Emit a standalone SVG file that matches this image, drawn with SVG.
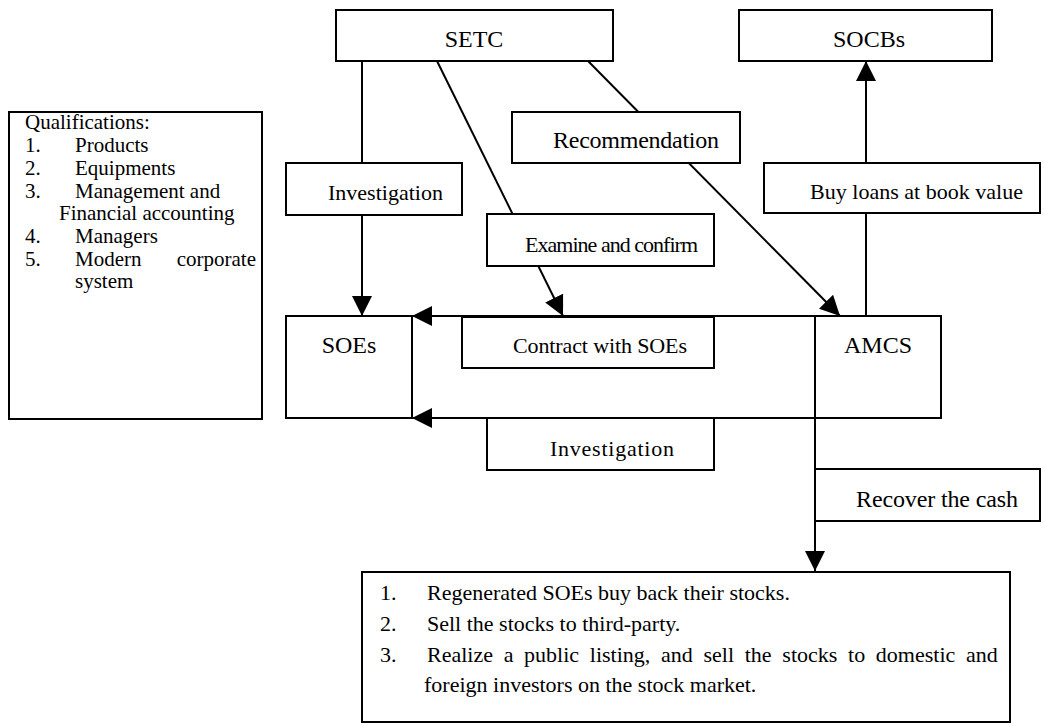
<svg xmlns="http://www.w3.org/2000/svg" width="1044" height="724" viewBox="0 0 1044 724">
<style>
.box{fill:#fff;stroke:#000;stroke-width:2}
.ln{fill:none;stroke:#000;stroke-width:2}
text{font-family:"Liberation Serif","Times New Roman",serif;font-size:22px;fill:#000}
.q{font-size:21px}
.big{font-size:24px}
</style>
<defs>
<marker id="ah" markerUnits="userSpaceOnUse" markerWidth="20" markerHeight="20" refX="20" refY="10" orient="auto" viewBox="0 0 20 20">
<path d="M0,0 L20,10 L0,20 z" fill="#000"/>
</marker>
</defs>
<rect width="1044" height="724" fill="#fff"/>
<g id="connectors">
<line class="ln" x1="362" y1="61" x2="362" y2="316" marker-end="url(#ah)"/>
<line class="ln" x1="437" y1="61" x2="563" y2="316" marker-end="url(#ah)"/>
<line class="ln" x1="588" y1="61" x2="840" y2="316" marker-end="url(#ah)"/>
<line class="ln" x1="866" y1="316" x2="866" y2="61" marker-end="url(#ah)"/>
<line class="ln" x1="815" y1="316" x2="412" y2="316" marker-end="url(#ah)"/>
<line class="ln" x1="815" y1="418" x2="412" y2="418" marker-end="url(#ah)"/>
<line class="ln" x1="815" y1="418" x2="815" y2="571" marker-end="url(#ah)"/>
</g>
<g id="setc"><rect class="box" x="336" y="10" width="277" height="51"/><text class="big" x="474" y="47" text-anchor="middle">SETC</text></g>
<g id="socbs"><rect class="box" x="739" y="10" width="253" height="51"/><text class="big" x="869" y="47" text-anchor="middle">SOCBs</text></g>
<g id="qualifications"><rect class="box" x="9" y="112" width="253" height="307"/>
<text class="q" x="25" y="129">Qualifications:</text>
<text class="q" x="25" y="152">1.</text><text class="q" x="75" y="152">Products</text>
<text class="q" x="25" y="175">2.</text><text class="q" x="75" y="175">Equipments</text>
<text class="q" x="25" y="198">3.</text><text class="q" x="75" y="198">Management and</text>
<text class="q" x="59" y="220">Financial accounting</text>
<text class="q" x="25" y="243">4.</text><text class="q" x="75" y="243">Managers</text>
<text class="q" x="25" y="266">5.</text><text class="q" x="75" y="266">Modern</text><text class="q" x="256" y="266" text-anchor="end">corporate</text>
<text class="q" x="75" y="288">system</text>
</g>
<g id="investigation-top"><rect class="box" x="286" y="163" width="176" height="52"/><text x="328" y="200" textLength="115">Investigation</text></g>
<g id="recommendation"><rect class="box" x="512" y="112" width="228" height="51"/><text class="big" x="553" y="148" textLength="166">Recommendation</text></g>
<g id="examine"><rect class="box" x="487" y="214" width="227" height="52"/><text x="525" y="252" textLength="173">Examine and confirm</text></g>
<g id="buy-loans"><rect class="box" x="764" y="163" width="276" height="50"/><text x="810" y="199" textLength="213">Buy loans at book value</text></g>
<g id="soes"><rect class="box" x="286" y="316" width="126" height="102"/><text class="big" x="349" y="353" text-anchor="middle">SOEs</text></g>
<g id="contract"><rect class="box" x="462" y="317" width="252" height="51"/><text x="513" y="353" textLength="174">Contract with SOEs</text></g>
<g id="amcs"><rect class="box" x="815" y="316" width="126" height="102"/><text class="big" x="878" y="353" text-anchor="middle">AMCS</text></g>
<g id="investigation-bottom"><rect class="box" x="487" y="418" width="227" height="52"/><text x="550" y="456" textLength="124">Investigation</text></g>
<g id="recover"><rect class="box" x="815" y="469" width="225" height="52"/><text class="big" x="856" y="507" textLength="162">Recover the cash</text></g>
<g id="outcomes"><rect class="box" x="362" y="572" width="648" height="150"/>
<text x="380" y="600">1.</text><text x="427" y="600">Regenerated SOEs buy back their stocks.</text>
<text x="380" y="631">2.</text><text x="427" y="631">Sell the stocks to third-party.</text>
<text x="380" y="662">3.</text><text x="427" y="662" word-spacing="5.2">Realize a public listing, and sell the stocks to domestic and</text>
<text x="424" y="692">foreign investors on the stock market.</text>
</g>
</svg>
